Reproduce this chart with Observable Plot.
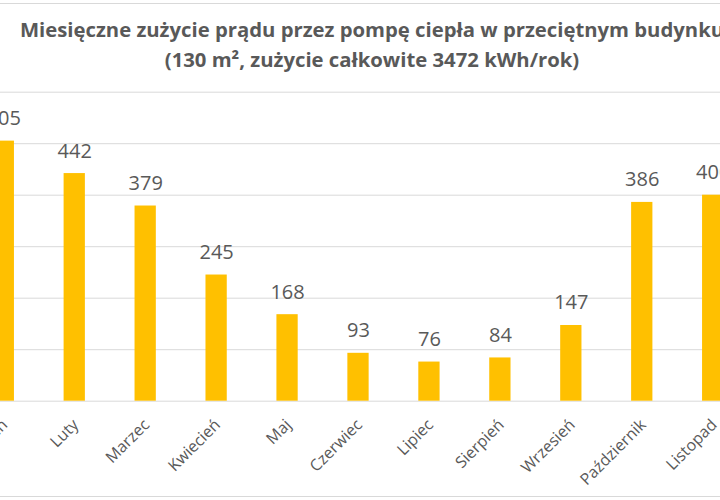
<!DOCTYPE html>
<html><head><meta charset="utf-8">
<script src="https://cdn.jsdelivr.net/npm/d3@7"></script>
<script src="https://cdn.jsdelivr.net/npm/@observablehq/plot@0.6"></script>
<style>
html,body{margin:0;padding:0;background:#fff;overflow:hidden;}
#wrap{position:relative;width:720px;height:500px;overflow:hidden;font-family:"Open Sans",sans-serif;}
.title{position:absolute;left:-128px;width:1000px;text-align:center;white-space:nowrap;color:#595959;font-weight:700;font-size:20.3px;line-height:30px;top:14px;}
#chart{position:absolute;left:0;top:80px;}
.frame{position:absolute;left:0;width:720px;height:0;border-top:1px solid #d9d9d9;}
</style></head>
<body><div id="wrap">
<div class="frame" style="top:3px"></div>
<div class="title">Miesięczne zużycie prądu przez pompę ciepła w przeciętnym budynku<br>(130 m², zużycie całkowite 3472 kWh/rok)</div>
<div id="chart"></div>
<div class="frame" style="top:496px"></div>
</div>
<script>
const months = ["Styczeń","Luty","Marzec","Kwiecień","Maj","Czerwiec","Lipiec","Sierpień","Wrzesień","Październik","Listopad"];
const values = [505,442,379,245,168,93,76,84,147,386,400];
const gridTicks = [0,100,200,300,400,500,600];
const data = months.map((m,i)=>({month:m,value:values[i]}));
const plot = Plot.plot({
  width:720, height:420, margin:0,
  style:{fontFamily:"Open Sans", background:"transparent"},
  x:{domain:months, range:[-57,773], paddingInner:0.7, paddingOuter:0.7, round:false, axis:null},
  y:{domain:[0,600], range:[320.7,11.7], axis:null},
  marks:[
    Plot.ruleY(gridTicks,{stroke:"#d9d9d9", strokeWidth:1}),
    Plot.barY(data,{x:"month", y:"value", fill:"#FFC000"}),
    Plot.text(data,{x:"month", y:"value", text:d=>String(d.value), lineAnchor:"bottom", dy:-16, fontSize:20, fill:"#595959"}),
    Plot.text(data,{x:"month", y:d=>0, text:"month", rotate:-45, textAnchor:"end", lineAnchor:"middle", dx:1, dy:21, fontSize:16, fill:"#595959"})
  ]
});
document.getElementById("chart").appendChild(plot);
</script>
</body></html>
